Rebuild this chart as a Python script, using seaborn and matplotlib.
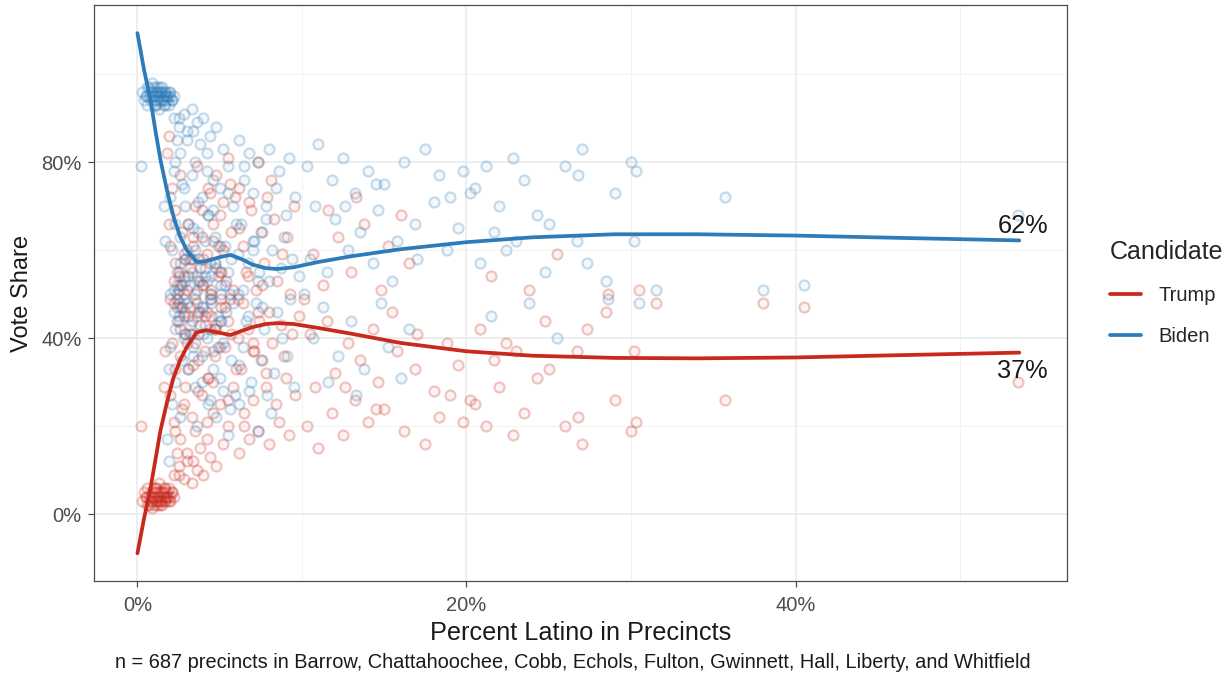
import matplotlib
matplotlib.use("Agg")
import matplotlib.pyplot as plt
import pandas as pd
import seaborn as sns
from matplotlib.colors import to_rgba
from matplotlib.lines import Line2D

sns.set_theme(style="white")
plt.rcParams["font.family"] = ["Liberation Sans", "DejaVu Sans"]

# Precinct-level shares (percent)
pct_latino = [
    0.3, 0.5, 0.6, 0.8, 0.9, 1.0, 1.1, 1.2, 1.3, 1.4,
    1.5, 1.6, 1.7, 1.8, 1.9, 0.7, 1.0, 1.2, 1.4, 1.6,
    0.4, 2.0, 2.1, 0.9, 1.3, 1.1, 1.5, 1.8, 0.6, 1.7,
    0.5, 0.8, 1.0, 1.2, 1.4, 1.6, 1.8, 2.0, 1.1, 1.3,
    0.9, 1.5, 1.7, 1.9, 2.2, 0.7, 1.2, 1.6, 2.1, 1.0,
    0.2, 1.9, 2.2, 2.5, 2.8, 2.4, 2.6, 3.0, 2.2, 2.0,
    2.7, 2.9, 2.3, 2.1, 2.6, 2.4, 2.8, 2.2, 2.5, 2.9,
    2.0, 2.7, 2.3, 2.1, 2.6, 1.8, 2.4, 2.9, 2.0, 2.5,
    2.3, 1.7, 1.6, 3.0, 3.2, 3.1, 2.8, 2.2, 1.9, 2.6,
    3.3, 3.6, 4.0, 4.4, 3.8, 4.8, 5.2, 3.5, 4.2, 4.6,
    5.0, 5.5, 3.9, 4.3, 5.8, 3.4, 4.7, 5.3, 3.7, 4.1,
    4.5, 5.1, 5.6, 3.5, 4.0, 4.9, 3.2, 3.6, 4.4, 5.4,
    3.8, 4.2, 5.0, 5.7, 3.4, 4.6, 3.9, 5.2, 4.3, 5.9,
    4.8, 3.6, 5.5, 4.1, 5.7, 3.3, 4.7, 3.7, 4.5, 5.1,
    2.4, 2.7, 3.0, 3.3, 3.6, 3.9, 4.2, 4.5, 4.8, 5.1,
    2.5, 2.9, 3.2, 3.5, 3.8, 4.1, 4.4, 4.7, 5.0, 5.3,
    2.6, 2.8, 3.1, 3.4, 3.7, 4.0, 4.3, 4.6, 4.9, 5.2,
    5.5, 5.8, 6.1, 6.4, 6.7, 7.0, 7.3, 7.6, 2.3, 3.0,
    2.8, 3.3, 3.7, 4.2, 4.6, 5.5, 6.0, 6.5, 7.0, 7.8,
    3.1, 3.5, 3.9, 4.4, 5.0, 5.6, 6.2, 6.8, 2.5, 3.4,
    6.2, 6.8, 7.3, 8.0, 8.6, 9.2, 6.5, 7.0, 7.8, 8.4,
    9.0, 9.6, 6.3, 7.1, 7.6, 8.2, 8.9, 9.4, 6.7, 7.4,
    8.0, 8.7, 9.8, 6.1, 7.2, 8.5, 9.3, 6.6, 7.7, 8.8,
    6.4, 7.5, 8.3, 9.1, 6.9, 7.9, 9.5, 6.2, 8.1, 7.3,
    10.3, 11.0, 11.8, 12.5, 13.2, 14.0, 15.0, 16.2, 17.5, 18.3,
    19.0, 10.8, 12.0, 13.5, 14.6, 15.8, 16.9, 18.0, 19.5, 10.5,
    11.5, 12.8, 14.3, 15.5, 17.0, 18.8, 10.1, 11.3, 13.0, 14.8,
    16.5, 10.7, 12.2, 13.8, 15.2, 11.6, 13.3, 16.0, 12.6, 14.5,
    20.5, 21.2, 22.0, 22.8, 23.5, 24.3, 21.7, 23.0, 25.0, 20.8,
    22.4, 24.8, 26.0, 26.7, 21.5, 23.8, 25.5, 26.8, 20.2, 19.8,
    27.0, 28.5, 28.6, 29.0, 30.0, 30.2, 30.5, 31.5, 35.7, 38.0,
    40.5, 53.5, 30.3, 27.3,
]
biden_share = [
    96, 95, 97, 94, 96, 95, 93, 97, 95, 94,
    96, 95, 93, 94, 96, 95, 97, 94, 96, 93,
    94, 95, 94, 98, 92, 96, 97, 95, 93, 96,
    95, 96, 94, 95, 97, 94, 95, 96, 93, 96,
    95, 94, 96, 93, 95, 97, 96, 95, 94, 93,
    79, 12, 90, 88, 91, 85, 82, 87, 78, 72,
    75, 70, 66, 60, 57, 52, 49, 46, 44, 41,
    38, 35, 30, 25, 22, 17, 55, 53, 50, 48,
    42, 62, 70, 60, 58, 45, 54, 51, 33, 47,
    92, 89, 90, 86, 84, 88, 83, 80, 78, 76,
    74, 79, 72, 68, 70, 65, 63, 61, 58, 56,
    54, 52, 50, 49, 47, 45, 52, 54, 50, 46,
    43, 40, 38, 35, 36, 33, 30, 28, 25, 27,
    22, 20, 18, 62, 58, 41, 57, 53, 48, 44,
    50, 52, 48, 55, 51, 47, 53, 49, 56, 50,
    45, 58, 43, 60, 46, 54, 42, 57, 44, 52,
    63, 40, 66, 38, 64, 41, 68, 37, 61, 39,
    55, 48, 59, 51, 45, 62, 53, 47, 80, 85,
    74, 77, 71, 82, 69, 73, 66, 79, 60, 67,
    33, 29, 36, 26, 31, 24, 34, 28, 90, 87,
    85, 82, 80, 83, 78, 81, 76, 73, 70, 74,
    68, 72, 66, 62, 64, 60, 63, 58, 57, 55,
    53, 56, 54, 50, 48, 46, 49, 44, 42, 40,
    38, 35, 32, 36, 30, 27, 29, 25, 23, 19,
    79, 84, 76, 81, 73, 78, 75, 80, 83, 77,
    72, 70, 67, 64, 69, 62, 66, 71, 65, 58,
    55, 60, 57, 53, 58, 60, 50, 47, 44, 48,
    42, 40, 36, 33, 38, 30, 27, 31, 70, 75,
    74, 79, 70, 81, 76, 68, 64, 62, 66, 57,
    60, 55, 79, 62, 45, 48, 40, 77, 73, 78,
    83, 53, 49, 73, 80, 62, 48, 51, 72, 51,
    52, 68, 78, 57,
]
trump_share = [
    3, 4, 2, 5, 3, 4, 6, 2, 4, 5,
    3, 4, 6, 5, 3, 4, 2, 5, 3, 6,
    5, 4, 5, 1.5, 7, 3, 2, 4, 6, 3,
    4, 3, 5, 4, 2, 5, 4, 3, 6, 3,
    4, 5, 3, 6, 4, 2, 3, 4, 5, 6,
    20, 86, 9, 11, 8, 14, 17, 12, 21, 27,
    24, 29, 33, 39, 42, 47, 50, 53, 55, 58,
    61, 64, 69, 74, 77, 82, 44, 46, 49, 51,
    57, 37, 29, 39, 41, 54, 45, 48, 66, 52,
    7, 10, 9, 13, 15, 11, 16, 19, 21, 23,
    25, 20, 27, 31, 29, 34, 36, 38, 41, 43,
    45, 47, 49, 50, 52, 54, 47, 45, 49, 53,
    56, 59, 61, 64, 63, 66, 69, 71, 74, 72,
    77, 79, 81, 37, 41, 58, 42, 46, 51, 55,
    49, 47, 51, 44, 48, 52, 46, 50, 43, 49,
    54, 41, 56, 39, 53, 45, 57, 42, 55, 47,
    36, 59, 33, 61, 35, 58, 31, 62, 38, 60,
    44, 51, 40, 48, 54, 37, 46, 52, 19, 14,
    25, 22, 28, 17, 30, 26, 33, 20, 39, 32,
    66, 70, 63, 73, 68, 75, 65, 71, 9, 12,
    14, 17, 19, 16, 21, 18, 23, 26, 29, 25,
    31, 27, 33, 37, 35, 39, 36, 41, 42, 44,
    46, 43, 45, 49, 51, 53, 50, 55, 57, 59,
    61, 64, 67, 63, 69, 72, 70, 74, 76, 80,
    20, 15, 23, 18, 26, 21, 24, 19, 16, 22,
    27, 29, 32, 35, 30, 37, 33, 28, 34, 41,
    44, 39, 42, 46, 41, 39, 49, 52, 55, 51,
    57, 59, 63, 66, 61, 69, 72, 68, 29, 24,
    25, 20, 29, 18, 23, 31, 35, 37, 33, 42,
    39, 44, 20, 37, 54, 51, 59, 22, 26, 21,
    16, 46, 50, 26, 19, 37, 51, 48, 26, 48,
    47, 30, 21, 42,
]

# Smoothed trend of each candidate's share
smooth_x = [0.0, 0.4, 0.8, 1.1, 1.4, 1.8, 2.2, 2.6, 3.0, 3.6,
            4.2, 5.0, 5.65, 6.3, 7.0, 7.8, 8.5, 9.5, 11.0, 13.0,
            16.0, 20.0, 24.0, 29.0, 34.0, 40.0, 46.0, 53.6]
smooth_biden = [109.3, 101.0, 94.0, 87.0, 80.5, 73.5, 67.5, 63.0, 60.0, 57.3,
                57.5, 58.4, 58.9, 58.0, 56.7, 55.9, 55.7, 56.1, 57.3, 58.6,
                60.2, 61.8, 62.9, 63.6, 63.6, 63.3, 62.8, 62.2]
smooth_trump = [-8.9, -1.0, 6.0, 12.5, 19.0, 25.5, 31.1, 35.0, 38.0, 41.3,
                41.8, 41.2, 40.7, 41.6, 42.5, 43.2, 43.4, 43.2, 42.3, 41.0,
                38.9, 37.0, 36.0, 35.5, 35.4, 35.6, 36.1, 36.7]

end_labels = {"Biden": "62%", "Trump": "37%"}

candidates = ["Trump", "Biden"]
palette = {"Trump": "#C9281C", "Biden": "#2D7CB9"}

points = pd.concat([
    pd.DataFrame({"latino": pct_latino, "share": trump_share, "Candidate": "Trump"}),
    pd.DataFrame({"latino": pct_latino, "share": biden_share, "Candidate": "Biden"}),
])
trend = pd.concat([
    pd.DataFrame({"latino": smooth_x, "share": smooth_trump, "Candidate": "Trump"}),
    pd.DataFrame({"latino": smooth_x, "share": smooth_biden, "Candidate": "Biden"}),
])

fig = plt.figure(figsize=(12.31, 6.81), dpi=100)
ax = fig.add_axes([94 / 1231, 1 - 581 / 681, (1067 - 94) / 1231, (581 - 5) / 681])

# Open, translucent circles for each precinct
for cand in candidates:
    sub = points[points["Candidate"] == cand]
    sns.scatterplot(data=sub, x="latino", y="share", ax=ax, s=52,
                    marker="o", facecolors=[to_rgba(palette[cand], 0.05)],
                    edgecolor=[to_rgba(palette[cand], 0.26)],
                    linewidth=1.6, legend=False, zorder=2)

sns.lineplot(data=trend, x="latino", y="share", hue="Candidate",
             palette=palette, hue_order=candidates, linewidth=2.7,
             estimator=None, sort=True, legend=False, ax=ax, zorder=3)

# End-of-line value labels
ax.text(53.8, 65.5, end_labels["Biden"], ha="center", va="center",
        fontsize=18.3, color="#1a1a1a", zorder=4)
ax.text(53.8, 32.6, end_labels["Trump"], ha="center", va="center",
        fontsize=18.3, color="#1a1a1a", zorder=4)

ax.set_xlim(-2.64, 56.5)
ax.set_ylim(-15.2, 115.7)
ax.set_xticks([0, 20, 40])
ax.set_xticklabels(["0%", "20%", "40%"])
ax.set_xticks([10, 30, 50], minor=True)
ax.set_yticks([0, 40, 80])
ax.set_yticklabels(["0%", "40%", "80%"])
ax.set_yticks([20, 60, 100], minor=True)

ax.grid(which="major", color="#EBEBEB", linewidth=1.2, zorder=0)
ax.grid(which="minor", color="#F2F2F2", linewidth=0.7, zorder=0)
ax.set_axisbelow(True)
for sp in ax.spines.values():
    sp.set_color("#4D4D4D")
    sp.set_linewidth(0.9)
ax.tick_params(axis="both", which="major", length=4, width=0.9, color="#4D4D4D",
               labelcolor="#4D4D4D", labelsize=14.5, pad=5, bottom=True, left=True)
ax.tick_params(axis="x", which="major", pad=7)
ax.tick_params(axis="both", which="minor", length=0)

ax.set_xlabel("Percent Latino in Precincts", fontsize=18.2, color="#1a1a1a", labelpad=4)
ax.set_ylabel("Vote Share", fontsize=17, color="#1a1a1a", labelpad=6)

fig.text(573 / 1231, 1 - 662 / 681,
         "n = 687 precincts in Barrow, Chattahoochee, Cobb, Echols, Fulton, "
         "Gwinnett, Hall, Liberty, and Whitfield",
         ha="center", va="center", fontsize=14.4, color="#1a1a1a")

handles = [Line2D([0], [0], color=palette[c], lw=2.7) for c in candidates]
leg = fig.legend(handles, candidates, title="Candidate", loc="upper left",
                 bbox_to_anchor=(1092 / 1231, 1 - 222 / 681), frameon=False,
                 fontsize=14.5, title_fontsize=18, handlelength=1.55,
                 labelspacing=1.1, handletextpad=0.85, alignment="left")

fig.savefig("out.png", dpi=100)
